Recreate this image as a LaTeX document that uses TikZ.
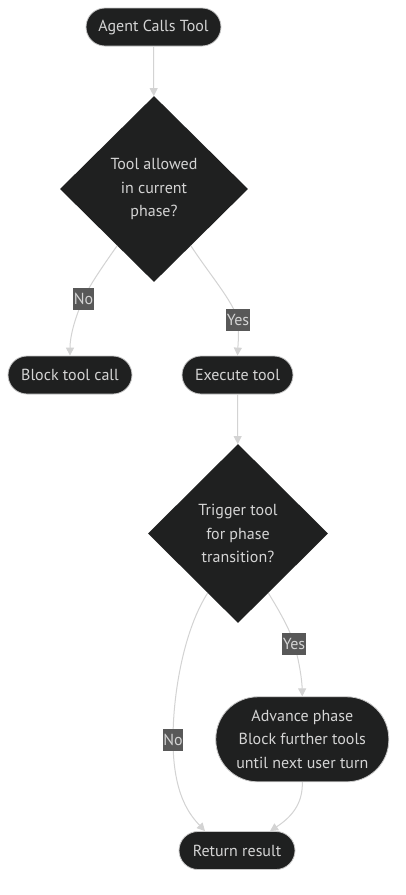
\documentclass[tikz,border=0pt]{standalone}
\usepackage{fontspec}
\setmainfont{PT Sans}
\usetikzlibrary{shapes.geometric,arrows.meta,calc}
\definecolor{nodefill}{HTML}{1F2020}
\definecolor{nodeborder}{HTML}{C8C8C8}
\definecolor{txt}{HTML}{D4D4D4}
\definecolor{linecol}{HTML}{D3D3D3}
\definecolor{labelbg}{HTML}{585858}
\begin{document}
\begin{tikzpicture}[x=1pt,y=-1pt,
  font=\fontsize{16}{23.5}\selectfont,
  pill/.style={draw=nodeborder, line width=0.8pt, fill=nodefill, text=txt, rounded corners=19pt, inner sep=0pt, align=center, minimum height=38pt},
  dia/.style={diamond, aspect=1, fill=nodefill, text=txt, inner sep=0pt, align=center},
  lbl/.style={fill=labelbg, text=txt, inner xsep=0.5pt, inner ysep=0pt, minimum height=22pt},
  edge/.style={draw=linecol, line width=1pt, -{Triangle[length=8pt,width=8pt]}}]
\useasboundingbox[fill=white] (0,0) rectangle (405,895);

\node[pill, minimum width=135pt] (start) at (153.5,27) {Agent Calls Tool};
\node[dia, minimum width=188pt, minimum height=186pt] (d1) at (154,189) {Tool allowed\\in current\\phase?};
\node[pill, minimum width=124pt] (block) at (70,375) {Block tool call};
\node[pill, minimum width=111pt] (exec) at (237.5,375) {Execute tool};
\node[dia, minimum width=180pt, minimum height=179pt] (d2) at (238,533.5) {Trigger tool\\for phase\\transition?};
\node[pill, minimum width=173pt, minimum height=85pt, rounded corners=42pt] (adv) at (302.3,739.3) {Advance phase\\Block further tools\\until next user turn};
\node[pill, minimum width=116pt] (ret) at (237,850.5) {Return result};

\coordinate (no1) at (83.5,299);
\coordinate (yes1) at (238,319.5);
\coordinate (yes2) at (294,643.5);
\coordinate (no2) at (173,739.5);

\draw[edge] (start) -- (d1);
\draw[edge] (d1.-123) .. controls (100,270) and (88,288) .. (no1) .. controls (76,315) and (70,335) .. (block.north);
\draw[edge] (d1.-57) .. controls (210,275) and (232,300) .. (yes1) .. controls (239,335) and (238,345) .. (exec.north);
\draw[edge] (exec) -- (d2);
\draw[edge] (d2.-117.5) .. controls (185,628) and (173,690) .. (no2) .. controls (173,795) and (190,815) .. ([xshift=-32pt]ret.north);
\draw[edge] (d2.-63.6) .. controls (280,612) and (290,630) .. (yes2) .. controls (299,660) and (302,680) .. (adv.north);
\draw[edge] (adv.south) .. controls (303,805) and (290,818) .. ([xshift=33pt]ret.north);

\node[lbl] at (no1) {No};
\node[lbl] at (yes1) {Yes};
\node[lbl] at (yes2) {Yes};
\node[lbl] at (no2) {No};
\end{tikzpicture}
\end{document}
